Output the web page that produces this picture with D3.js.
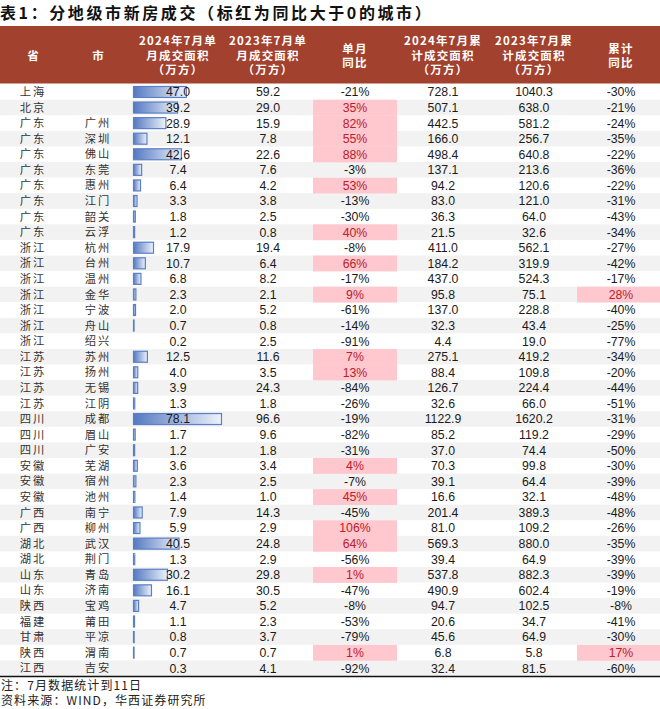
<!DOCTYPE html>
<html><head><meta charset="utf-8">
<script src="https://cdn.jsdelivr.net/npm/d3@7/dist/d3.min.js"></script>
<style>
html,body{margin:0;padding:0;background:#fff;}
svg{display:block;}
</style></head>
<body>
<svg id="chart" width="660" height="709"></svg>
<script>
const title = "表1：分地级市新房成交（标红为同比大于0的城市）";
const headers = [
  ["省"], ["市"],
  ["2024年7月单","月成交面积","（万方）"],
  ["2023年7月单","月成交面积","（万方）"],
  ["单月","同比"],
  ["2024年7月累","计成交面积","（万方）"],
  ["2023年7月累","计成交面积","（万方）"],
  ["累计","同比"]
];
const provinces = ["上海","北京","广东","广东","广东","广东","广东","广东","广东","广东","浙江","浙江","浙江","浙江","浙江","浙江","浙江","江苏","江苏","江苏","江苏","四川","四川","四川","安徽","安徽","安徽","广西","广西","湖北","湖北","山东","山东","陕西","福建","甘肃","陕西","江西"];
const cities = ["","","广州","深圳","佛山","东莞","惠州","江门","韶关","云浮","杭州","台州","温州","金华","宁波","舟山","绍兴","苏州","扬州","无锡","江阴","成都","眉山","广安","芜湖","宿州","池州","南宁","柳州","武汉","荆门","青岛","济南","宝鸡","莆田","平凉","渭南","吉安"];
const area2024Jul = [47.0,39.2,28.9,12.1,42.6,7.4,6.4,3.3,1.8,1.2,17.9,10.7,6.8,2.3,2.0,0.7,0.2,12.5,4.0,3.9,1.3,78.1,1.7,1.2,3.6,2.3,1.4,7.9,5.9,40.5,1.3,30.2,16.1,4.7,1.1,0.8,0.7,0.3];
const area2023Jul = [59.2,29.0,15.9,7.8,22.6,7.6,4.2,3.8,2.5,0.8,19.4,6.4,8.2,2.1,5.2,0.8,2.5,11.6,3.5,24.3,1.8,96.6,9.6,1.8,3.4,2.5,1.0,14.3,2.9,24.8,2.9,29.8,30.5,5.2,2.3,3.7,0.7,4.1];
const yoyMonth = [-21,35,82,55,88,-3,53,-13,-30,40,-8,66,-17,9,-61,-14,-91,7,13,-84,-26,-19,-82,-31,4,-7,45,-45,106,64,-56,1,-47,-8,-53,-79,1,-92];
const cum2024 = [728.1,507.1,442.5,166.0,498.4,137.1,94.2,83.0,36.3,21.5,411.0,184.2,437.0,95.8,137.0,32.3,4.4,275.1,88.4,126.7,32.6,1122.9,85.2,37.0,70.3,39.1,16.6,201.4,81.0,569.3,39.4,537.8,490.9,94.7,20.6,45.6,6.8,32.4];
const cum2023 = [1040.3,638.0,581.2,256.7,640.8,213.6,120.6,121.0,64.0,32.6,562.1,319.9,524.3,75.1,228.8,43.4,19.0,419.2,109.8,224.4,66.0,1620.2,119.2,74.4,99.8,64.4,32.1,389.3,109.2,880.0,64.9,882.3,602.4,102.5,34.7,64.9,5.8,81.5];
const yoyCum = [-30,-21,-24,-35,-22,-36,-22,-31,-43,-34,-27,-42,-17,28,-40,-25,-77,-34,-20,-44,-51,-31,-29,-50,-30,-39,-48,-48,-26,-35,-39,-39,-19,-8,-41,-30,17,-60];
const notes = ["注：7月数据统计到11日","资料来源：WIND，华西证券研究所"];

const svg = d3.select("#chart");
const W = 660;
const colEdges = [0,66,131,222,313,397,488,577,660];
const colCenters = [33,98,178,268,355,443,534,621];
const headTop = 26, headBottom = 83.5;
const bodyTop = 84.2, bodyBottom = 676;
const cjk = "'Noto Sans CJK SC','Noto Sans',sans-serif";
const num = "'Liberation Sans',Arial,sans-serif";
const red = "#B8202C", pink = "#FFC7CE";

const rows = d3.range(provinces.length);
const y = d3.scaleBand().domain(rows).range([bodyTop, bodyBottom]).padding(0);
const barX = d3.scaleLinear().domain([d3.min(area2024Jul), d3.max(area2024Jul)]).range([0, 88]);

// title
svg.append("text").attr("x", 0).attr("y", 19)
  .attr("font-family", cjk).attr("font-weight", 700).attr("font-size", 16)
  .attr("letter-spacing", 2.6).attr("fill", "#111").text(title);

// header
svg.append("rect").attr("x", 0).attr("y", headTop).attr("width", W).attr("height", headBottom - headTop).attr("fill", "#A3412F");
const hg = svg.append("g");
headers.forEach((lines, i) => {
  const lh = 14.6, cy = (headTop + headBottom) / 2 + 1;
  const start = cy - (lines.length - 1) * lh / 2;
  lines.forEach((t, j) => {
    hg.append("text").attr("x", colCenters[i]).attr("y", start + j * lh)
      .attr("dy", "0.36em").attr("text-anchor", "middle")
      .attr("font-family", cjk).attr("font-weight", 700).attr("font-size", 11.5)
      .attr("letter-spacing", lines.length === 1 ? 0 : 1.2)
      .attr("fill", "#fff").text(t);
  });
});

// stripes
const body = svg.append("g");
body.selectAll("rect.stripe").data(rows).join("rect").attr("class", "stripe")
  .attr("x", 0).attr("y", d => y(d)).attr("width", W).attr("height", y.bandwidth() + 0.3)
  .attr("fill", d => d % 2 === 1 ? "#F2F2F2" : "#FFFFFF");

// pink highlights
body.selectAll("rect.hm").data(rows.filter(d => yoyMonth[d] > 0)).join("rect").attr("class", "hm")
  .attr("x", colEdges[4]).attr("y", d => y(d)).attr("width", colEdges[5] - colEdges[4]).attr("height", y.bandwidth() + 0.3)
  .attr("fill", pink);
body.selectAll("rect.hc").data(rows.filter(d => yoyCum[d] > 0)).join("rect").attr("class", "hc")
  .attr("x", colEdges[7]).attr("y", d => y(d)).attr("width", colEdges[8] - colEdges[7]).attr("height", y.bandwidth() + 0.3)
  .attr("fill", pink);

// data bars
const defs = svg.append("defs");
const grad = defs.append("linearGradient").attr("id", "bargrad").attr("x1", 0).attr("x2", 1).attr("y1", 0).attr("y2", 0);
grad.append("stop").attr("offset", "0%").attr("stop-color", "#5479C2");
grad.append("stop").attr("offset", "100%").attr("stop-color", "#EEF2FA");
const barH = 11;
body.selectAll("rect.bar").data(rows.filter(d => barX(area2024Jul[d]) > 0.25)).join("rect").attr("class", "bar")
  .attr("x", colEdges[2] + 2.5).attr("y", d => y(d) + (y.bandwidth() - barH) / 2)
  .attr("width", d => barX(area2024Jul[d])).attr("height", barH)
  .attr("fill", "url(#bargrad)").attr("stroke", "#5A7FC6").attr("stroke-width", 1.2);

// text cells
function cellText(col, accessor, opts = {}) {
  body.selectAll(null).data(rows).join("text")
    .attr("x", colCenters[col]).attr("y", d => y(d) + y.bandwidth() / 2)
    .attr("dy", "0.36em").attr("text-anchor", "middle")
    .attr("font-family", opts.font || num).attr("font-size", opts.size || 12.3)
    .attr("letter-spacing", opts.ls || 0)
    .attr("fill", d => opts.color ? opts.color(d) : "#1a1a1a")
    .text(accessor);
}
cellText(0, d => provinces[d], {font: cjk, size: 11.3, ls: 2, color: () => "#333"});
cellText(1, d => cities[d], {font: cjk, size: 11.3, ls: 2, color: () => "#333"});
cellText(2, d => area2024Jul[d].toFixed(1));
cellText(3, d => area2023Jul[d].toFixed(1));
cellText(4, d => yoyMonth[d] + "%", {color: d => yoyMonth[d] > 0 ? red : "#1a1a1a"});
cellText(5, d => cum2024[d].toFixed(1));
cellText(6, d => cum2023[d].toFixed(1));
cellText(7, d => yoyCum[d] + "%", {color: d => yoyCum[d] > 0 ? red : "#1a1a1a"});

// bottom border
svg.append("line").attr("x1", 0).attr("x2", W).attr("y1", bodyBottom + 0.5).attr("y2", bodyBottom + 0.5)
  .attr("stroke", "#111").attr("stroke-width", 1.5);

// notes
notes.forEach((t, i) => {
  svg.append("text").attr("x", 1).attr("y", 685.5 + i * 15.5).attr("dy", "0.36em")
    .attr("font-family", cjk).attr("font-size", 12).attr("letter-spacing", 1.1)
    .attr("fill", "#222").text(t);
});
</script>
</body></html>
